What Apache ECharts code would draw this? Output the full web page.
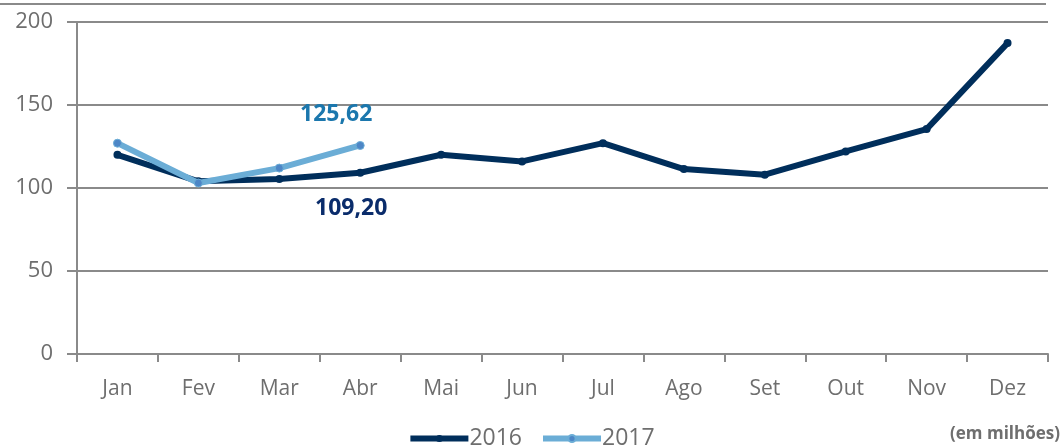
<!DOCTYPE html>
<html>
<head>
<meta charset="utf-8">
<script src="https://cdn.jsdelivr.net/npm/echarts@6/dist/echarts.min.js"></script>
<style>
html,body{margin:0;padding:0;background:#fff;}
#chart{width:1062px;height:447px;}
</style>
</head>
<body>
<div id="chart"></div>
<script>
// meses
var months=['Jan','Fev','Mar','Abr','Mai','Jun','Jul','Ago','Set','Out','Nov','Dez'];
// valores (em milhões)
var v2016=[120,104,105.4,109.2,120,116,127,111.4,108,122,135.5,187.3];
var v2017=[127,103,112,125.62];
var yTicks=[0,50,100,150,200];

var gray='#8a8a8a';
var txtGray='#6e6e6e';
var fontFam='"Open Sans","Noto Sans",sans-serif';

// so o ultimo ponto de 2017 (Abr) leva rotulo
function lastLabel(){
    return function(p){
        return p.dataIndex===3?(p.value.toFixed(2).replace('.',',')):'';
    };
}

var chart=echarts.init(document.getElementById('chart'));
chart.setOption({
    animation:false,
    textStyle:{fontFamily:fontFam},
    grid:{left:77,right:14,top:22,bottom:93,containLabel:false},
    graphic:[{
        type:'line',
        shape:{x1:0,y1:4,x2:1046,y2:4},
        style:{stroke:gray,lineWidth:2}
    },{
        type:'text',
        right:2,
        top:426,
        style:{text:'(em milhões)',fill:txtGray,font:'bold 17px '+fontFam}
    }],
    legend:{
        bottom:-8,
        left:'center',
        itemWidth:58,
        itemHeight:9,
        itemGap:18,
        lineStyle:{width:6},
        textStyle:{color:txtGray,fontSize:23,padding:[0,0,0,-4]},
        data:['2016','2017']
    },
    xAxis:{
        type:'category',
        data:months,
        boundaryGap:true,
        axisLine:{lineStyle:{color:gray,width:2}},
        axisTick:{show:true,length:8,lineStyle:{color:gray,width:2}},
        axisLabel:{color:txtGray,fontSize:21,margin:25}
    },
    yAxis:{
        type:'value',
        min:yTicks[0],
        max:yTicks[yTicks.length-1],
        interval:50,
        axisLine:{show:true,lineStyle:{color:gray,width:2}},
        axisTick:{show:true,length:10,lineStyle:{color:gray,width:2}},
        splitLine:{lineStyle:{color:gray,width:2}},
        axisLabel:{color:txtGray,fontSize:22,margin:24}
    },
    series:[{
        name:'2016',
        type:'line',
        data:v2016,
        symbol:'circle',
        symbolSize:8,
        z:2,
        lineStyle:{color:'#002e5b',width:6},
        itemStyle:{color:'#002e5b'},
        label:{
            show:true,
            position:'bottom',
            distance:20,
            offset:[-9,0],
            color:'#0a2c6b',
            fontSize:23,
            fontWeight:'bold',
            formatter:lastLabel()
        }
    },{
        name:'2017',
        type:'line',
        data:v2017,
        symbol:'circle',
        symbolSize:8,
        z:3,
        lineStyle:{color:'#6badd6',width:6},
        itemStyle:{color:'#4d86c6',borderColor:'#6badd6',borderWidth:1},
        label:{
            show:true,
            position:'top',
            distance:15,
            offset:[-24,0],
            color:'#1b77ad',
            fontSize:23,
            fontWeight:'bold',
            formatter:lastLabel()
        }
    }]
});
</script>
</body>
</html>
